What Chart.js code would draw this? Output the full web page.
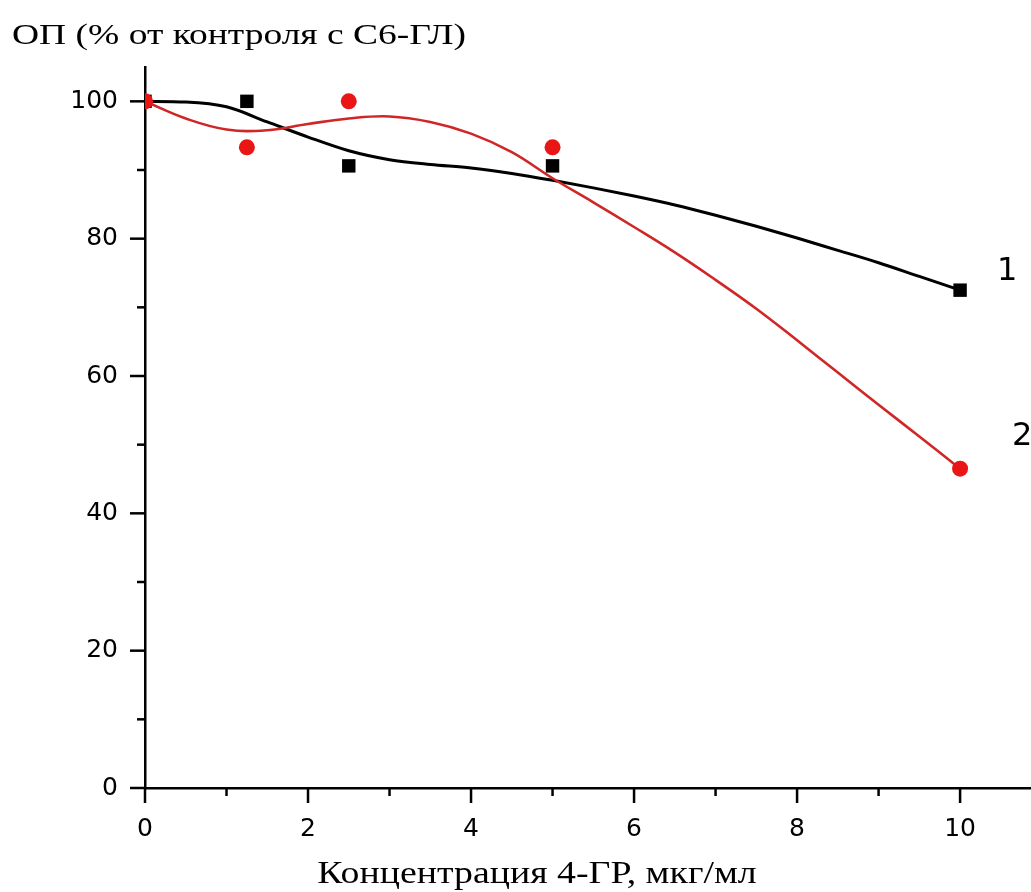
<!DOCTYPE html>
<html>
<head>
<meta charset="utf-8">
<script src="https://cdn.jsdelivr.net/npm/chart.js@4"></script>
<style>
  html, body { margin: 0; padding: 0; background: #fff; }
  canvas { display: block; }
</style>
</head>
<body>
<canvas id="chart" width="1031" height="892"></canvas>
<script>
// measured points (concentration, % of control)
const concentration = [0, 1.25, 2.5, 5, 10];
const series1 = [100, 100, 90.6, 90.6, 72.5];
const series2 = [100, 93.3, 100, 93.3, 46.5];

// smoothed fit curves
const curveX = [0, 0.5, 1, 1.5, 2, 2.5, 3, 3.5, 4, 4.5, 5, 5.5, 6, 6.5, 7, 7.5, 8, 8.5, 9, 9.5, 10];
const curve1 = [100, 99.9, 99.2, 97.0, 94.8, 92.8, 91.5, 90.8, 90.3, 89.5, 88.5, 87.4, 86.2, 84.9, 83.4, 81.8, 80.1, 78.3, 76.5, 74.5, 72.5];
const curve2 = [100, 97.5, 95.9, 95.8, 96.7, 97.5, 97.8, 97.0, 95.3, 92.6, 88.8, 85.3, 81.7, 78.0, 74.0, 69.8, 65.2, 60.5, 55.8, 51.2, 46.5];

const seriesNames = ['1', '2'];
const xMajor = [0, 2, 4, 6, 8, 10];
const xMinor = [1, 3, 5, 7, 9];
const yMajor = [0, 20, 40, 60, 80, 100];
const yMinor = [10, 30, 50, 70, 90];

const yTitle = 'ОП (% от контроля с С6-ГЛ)';
const xTitle = 'Концентрация 4-ГР, мкг/мл';

const toXY = (xs, ys) => xs.map((x, i) => ({ x: x, y: ys[i] }));

const RED = 'rgb(234,22,22)';
const RED_LINE = 'rgb(208,38,38)';
const SANS = '"DejaVu Sans", Arial, sans-serif';
const SERIF = '"Liberation Serif", "Times New Roman", serif';

// outward tick marks, long for major and short for minor
const tickMarks = {
    id: 'tickMarks',
    beforeDatasetsDraw(chart) {
        const { ctx, chartArea, scales } = chart;
        ctx.save();
        ctx.strokeStyle = '#000';
        ctx.lineWidth = 2.5;
        const drawX = (vals, len) => vals.forEach(v => {
            const px = scales.x.getPixelForValue(v);
            ctx.beginPath();
            ctx.moveTo(px, chartArea.bottom);
            ctx.lineTo(px, chartArea.bottom + len);
            ctx.stroke();
        });
        const drawY = (vals, len) => vals.forEach(v => {
            const py = scales.y.getPixelForValue(v);
            ctx.beginPath();
            ctx.moveTo(chartArea.left, py);
            ctx.lineTo(chartArea.left - len, py);
            ctx.stroke();
        });
        drawX(xMajor, 15);
        drawX(xMinor, 8);
        drawY(yMajor, 15);
        drawY(yMinor, 8);
        ctx.restore();
    }
};

// serif text, a bit wide, like the captions of the original figure
function wideText(ctx, text, x, y, align, sx) {
    const w = ctx.measureText(text).width * sx;
    const left = align === 'center' ? x - w / 2 : x;
    ctx.save();
    ctx.translate(left, y);
    ctx.scale(sx, 1);
    ctx.textAlign = 'left';
    ctx.fillText(text, 0, 0);
    ctx.restore();
}

// curve numbers next to the last points, plus the two axis captions
const captions = {
    id: 'captions',
    afterDraw(chart) {
        const { ctx, scales } = chart;
        ctx.save();
        ctx.fillStyle = '#000';

        ctx.font = '32px ' + SANS;
        ctx.textAlign = 'center';
        ctx.textBaseline = 'middle';
        const last = concentration.length - 1;
        const xEnd = scales.x.getPixelForValue(concentration[last]);
        ctx.fillText(seriesNames[0], xEnd + 47, scales.y.getPixelForValue(series1[last]) - 18);
        ctx.fillText(seriesNames[1], xEnd + 62, scales.y.getPixelForValue(series2[last]) - 32);

        ctx.textBaseline = 'alphabetic';
        ctx.font = '30px ' + SERIF;
        wideText(ctx, yTitle, 12, 44, 'left', 1.25);

        ctx.font = '31px ' + SERIF;
        wideText(ctx, xTitle, 537, 883, 'center', 1.22);
        ctx.restore();
    }
};

new Chart(document.getElementById('chart'), {
    type: 'line',
    data: {
        datasets: [
            {
                data: toXY(concentration, series2),
                showLine: false,
                pointStyle: 'circle',
                pointRadius: 8,
                pointBackgroundColor: RED,
                pointBorderWidth: 0
            },
            {
                data: toXY(concentration, series1),
                showLine: false,
                pointStyle: 'rect',
                pointRadius: 9.5,
                pointBackgroundColor: '#000',
                pointBorderWidth: 0
            },
            {
                data: toXY(curveX, curve2),
                borderColor: RED_LINE,
                borderWidth: 2.6,
                pointRadius: 0,
                tension: 0.4
            },
            {
                data: toXY(curveX, curve1),
                borderColor: '#000',
                borderWidth: 3,
                pointRadius: 0,
                cubicInterpolationMode: 'monotone'
            }
        ]
    },
    options: {
        responsive: false,
        animation: false,
        layout: {
            autoPadding: false,
            padding: { top: 67, right: 0, left: 0, bottom: 0 }
        },
        scales: {
            x: {
                type: 'linear',
                min: 0,
                max: 10.87,
                afterFit: scale => {
                    scale.height = 104;
                    scale.paddingLeft = 0;
                    scale.paddingRight = 0;
                },
                grid: { display: false, drawTicks: false },
                border: { display: true, color: '#000', width: 2.5 },
                ticks: {
                    stepSize: 2,
                    includeBounds: false,
                    autoSkip: false,
                    maxRotation: 0,
                    padding: 26,
                    color: '#000',
                    font: { family: SANS, size: 25 }
                }
            },
            y: {
                min: 0,
                max: 105,
                afterFit: scale => {
                    scale.width = 145;
                    scale.paddingTop = 0;
                    scale.paddingBottom = 0;
                },
                grid: { display: false, drawTicks: false },
                border: { display: true, color: '#000', width: 2.5 },
                ticks: {
                    stepSize: 20,
                    includeBounds: false,
                    padding: 27,
                    color: '#000',
                    font: { family: SANS, size: 25 }
                }
            }
        },
        plugins: {
            legend: { display: false },
            tooltip: { enabled: false }
        }
    },
    plugins: [tickMarks, captions]
});
</script>
</body>
</html>
